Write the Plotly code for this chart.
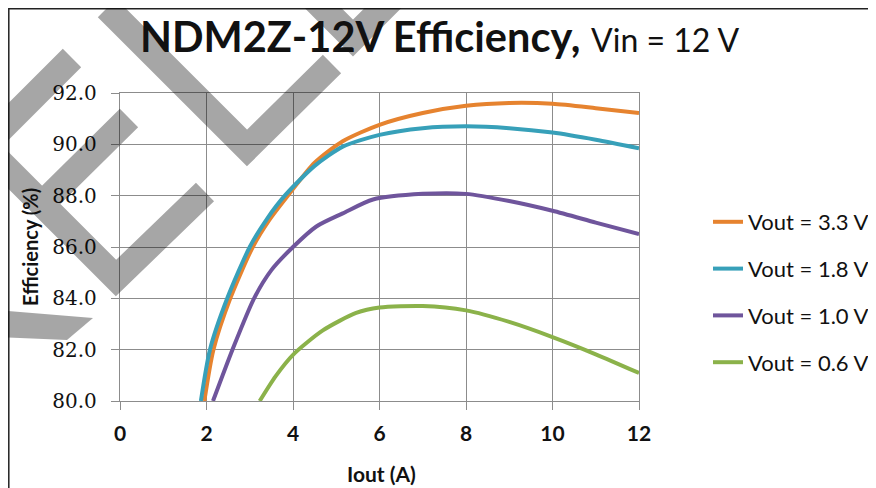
import plotly.graph_objects as go

# ---------------- data ----------------
series_names = ["Vout = 3.3 V", "Vout = 1.8 V", "Vout = 1.0 V", "Vout = 0.6 V"]
series_colors = ["#E6832F", "#37A0B9", "#6F559C", "#8BB24A"]

iout_33 = [1.95, 2.16, 2.55, 3.07, 3.45, 3.88, 4.5, 5.15, 6, 7, 8, 9, 10, 11, 12]
eff_33 = [80.0, 82.0, 84.0, 86.0, 87.05, 88.0, 89.28, 90.12, 90.76, 91.22, 91.5, 91.61, 91.58, 91.41, 91.22]

iout_18 = [1.87, 2.08, 2.48, 3.0, 3.4, 3.81, 4.5, 5.15, 6, 7, 8, 9, 10, 11, 12]
eff_18 = [80.0, 82.0, 84.0, 86.0, 87.1, 88.0, 89.16, 89.91, 90.37, 90.63, 90.7, 90.63, 90.46, 90.18, 89.85]

iout_10 = [2.15, 2.6, 3.1, 3.5, 4.0, 4.54, 5.15, 5.85, 7, 8, 9, 10, 11, 12]
eff_10 = [80.0, 82.0, 84.0, 85.1, 86.0, 86.8, 87.31, 87.85, 88.07, 88.07, 87.79, 87.41, 86.95, 86.5]

iout_06 = [3.23, 3.6, 4.0, 4.69, 5.46, 6, 7, 8, 9, 10, 11, 12]
eff_06 = [80.0, 80.97, 81.8, 82.75, 83.43, 83.64, 83.7, 83.53, 83.08, 82.49, 81.82, 81.09]

x_ticks = [0, 2, 4, 6, 8, 10, 12]
y_ticks = [80, 82, 84, 86, 88, 90, 92]

title_main = "NDM2Z-12V Efficiency,"
title_sub = "Vin = 12 V"
x_title = "Iout (A)"
y_title = "Efficiency (%)"

# ---------------- layout geometry ----------------
# page has an 8px body margin: reference pixel (X, Y) -> figure pixel (X-8, Y-8)
OFF = 8
W, H = 876, 488
ML, MT = 120 - OFF, 93 - OFF
PR, PB = 639 - OFF, 401 - OFF
MR, MB = W - PR, H - PB
PW, PH = PR - ML, PB - MT


def p(x, y):
    fx, fy = x - OFF, y - OFF
    return ((fx - ML) / PW, (PB - fy) / PH)


def path(points_list):
    s = []
    for pts in points_list:
        for i, (x, y) in enumerate(pts):
            px, py = p(x, y)
            s.append(("M" if i == 0 else "L") + f"{px:.5f},{py:.5f}")
    return " ".join(s)


fig = go.Figure()
xs = [iout_33, iout_18, iout_10, iout_06]
ys = [eff_33, eff_18, eff_10, eff_06]
for i, (name, col) in enumerate(zip(series_names, series_colors)):
    fig.add_trace(go.Scatter(
        x=xs[i], y=ys[i], mode="lines", name=name, legendgroup=str(i),
        line=dict(color=col, width=4, shape="spline", smoothing=0.7),
        cliponaxis=True,
    ))

grid_col = "#8C8C8C"
fig.update_layout(
    width=W, height=H,
    margin=dict(l=ML, r=MR, t=MT, b=MB, autoexpand=False),
    paper_bgcolor="white", plot_bgcolor="white",
    showlegend=True,
    legend=dict(
        x=p(708, 0)[0], xanchor="left", y=p(0, 292)[1], yanchor="middle",
        font=dict(family="Lato", size=22, color="#111"),
        tracegroupgap=15.2, traceorder="grouped",
        bgcolor="rgba(0,0,0,0)", borderwidth=0,
    ),
    xaxis=dict(
        range=[0, 12], tickvals=x_ticks, ticktext=[str(v) for v in x_ticks],
        showgrid=True, gridcolor=grid_col, gridwidth=1.3,
        showline=True, linecolor=grid_col, linewidth=1.3, mirror=True,
        ticks="outside", ticklen=8, tickcolor=grid_col, tickwidth=1.3,
        tickfont=dict(family="Lato", size=21, color="#111", weight="bold"),
        ticklabelstandoff=6,
        zeroline=False, fixedrange=True,
    ),
    yaxis=dict(
        range=[80, 92], tickvals=y_ticks, ticktext=[f"{v:.1f}" for v in y_ticks],
        showgrid=True, gridcolor=grid_col, gridwidth=1.3,
        showline=True, linecolor=grid_col, linewidth=1.3, mirror=True,
        ticks="outside", ticklen=8, tickcolor=grid_col, tickwidth=1.3,
        tickfont=dict(family="DejaVu Serif", size=20, color="#111"),
        ticklabelstandoff=10,
        zeroline=False, fixedrange=True,
    ),
)

# titles
fig.add_annotation(
    x=p(439, 0)[0], y=p(0, 36)[1], xref="paper", yref="paper",
    xanchor="center", yanchor="middle", showarrow=False,
    text=f"<b>{title_main}</b> <span style='font-size:32px'>{title_sub}</span>",
    font=dict(family="Lato", size=41.5, color="#111"),
)
fig.add_annotation(
    x=p(381, 0)[0], y=p(0, 473)[1], xref="paper", yref="paper",
    xanchor="center", yanchor="middle", showarrow=False,
    text=f"<b>{x_title}</b>", font=dict(family="Lato", size=21, color="#111"),
)
fig.add_annotation(
    x=p(30, 0)[0], y=p(0, 247)[1], xref="paper", yref="paper",
    xanchor="center", yanchor="middle", showarrow=False, textangle=-90,
    text=f"<b>{y_title}</b>", font=dict(family="Lato", size=20, color="#111"),
)

# outer frame (top and left edges)
fig.add_shape(type="path", xref="paper", yref="paper", layer="above",
              path=path([[(8.8, 520), (8.8, 8.8), (900, 8.8)]]),
              line=dict(color="#222", width=1.5))

# semi-transparent watermark strokes
wm = "rgba(0,0,0,0.35)"
fig.add_shape(type="path", xref="paper", yref="paper", layer="above",
              path=path([
                  [(205, 192), (116, 278), (-60, 102)],
                  [(129, 118), (42, 204)],
                  [(72, 58), (-16, 146)],
                  [(107, 8), (247, 148), (332, 64)],
                  [(290, -25), (353, 38), (416, -25)],
              ]),
              line=dict(color=wm, width=26))
fig.add_shape(type="path", xref="paper", yref="paper", layer="above",
              path=path([[(-5, 310), (93, 318), (67, 340), (-5, 337)]]) + " Z",
              fillcolor=wm, line=dict(width=0))

fig.write_html("out.html")
